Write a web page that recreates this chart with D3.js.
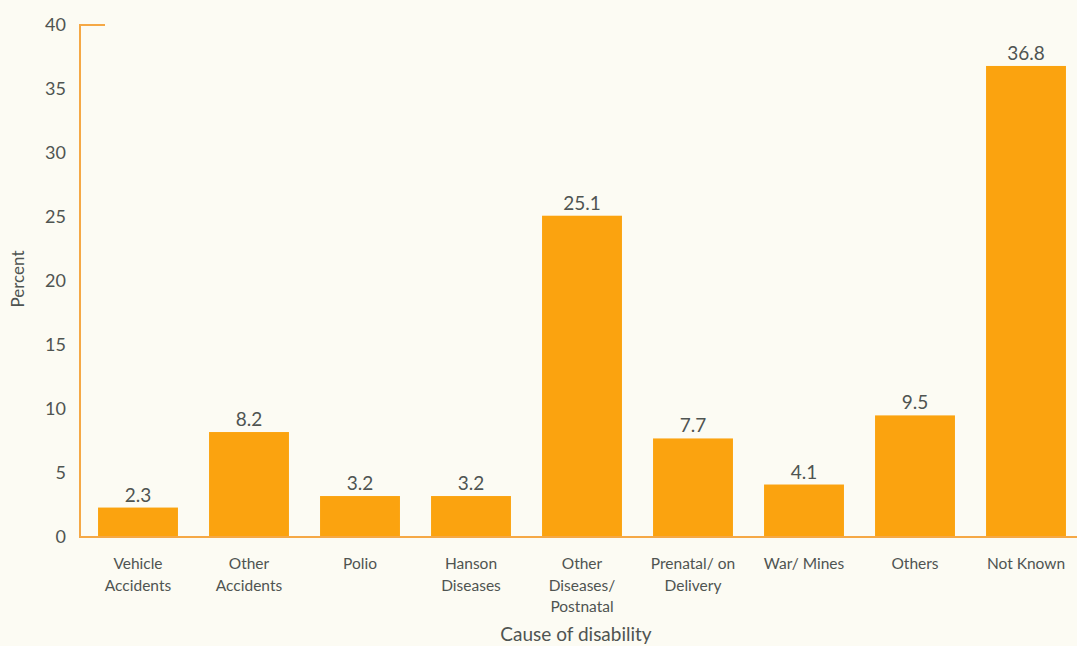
<!DOCTYPE html>
<html><head><meta charset="utf-8">
<script src="https://cdn.jsdelivr.net/npm/d3@7"></script>
<style>
html,body{margin:0;padding:0;background:#fcfbf3;}
svg{display:block;}
text{font-family:Lato,"Open Sans",sans-serif;fill:#4f5451;}
</style></head>
<body>
<svg id="c" width="1077" height="646"></svg>
<script>
const categories = [
  ["Vehicle","Accidents"],
  ["Other","Accidents"],
  ["Polio"],
  ["Hanson","Diseases"],
  ["Other","Diseases/","Postnatal"],
  ["Prenatal/ on","Delivery"],
  ["War/ Mines"],
  ["Others"],
  ["Not Known"]
];
const values = [2.3, 8.2, 3.2, 3.2, 25.1, 7.7, 4.1, 9.5, 36.8];
const yTicks = [0,5,10,15,20,25,30,35,40];
const xTitle = "Cause of disability";
const yTitle = "Percent";

const svg = d3.select("#c");
const W = 1077, H = 646;
svg.append("rect").attr("width",W).attr("height",H).attr("fill","#fcfbf3");

const keys = categories.map((c,i)=>i);
const x = d3.scaleBand().domain(keys).range([82.5,1081.5]).paddingInner(0.28).paddingOuter(0.14);
const y = d3.scaleLinear().domain([0,40]).range([537,25]);

const axisColor = "#f5a845";
const barColor = "#fba30f";

// bars
svg.selectAll("rect.bar").data(values).enter().append("rect")
  .attr("class","bar")
  .attr("x",(d,i)=>x(i))
  .attr("y",d=>y(d))
  .attr("width",x.bandwidth())
  .attr("height",d=>y(0)-y(d))
  .attr("fill",barColor);

// value labels
svg.selectAll("text.val").data(values).enter().append("text")
  .attr("class","val")
  .attr("x",(d,i)=>x(i)+x.bandwidth()/2)
  .attr("y",d=>y(d)-6)
  .attr("text-anchor","middle")
  .attr("font-size",19)
  .text(d=>d.toFixed(1));

// y axis
const yAxis = d3.axisLeft(y).tickValues(yTicks).tickSize(0).tickPadding(14);
const gy = svg.append("g").attr("transform","translate(80,0)").call(yAxis);
gy.select(".domain").remove();
gy.selectAll("text").attr("font-size",18).attr("font-family","Lato,'Open Sans',sans-serif").attr("fill","#4f5451");

svg.append("line").attr("x1",80).attr("x2",80).attr("y1",y(40)).attr("y2",y(0))
  .attr("stroke",axisColor).attr("stroke-width",2);
svg.append("line").attr("x1",79).attr("x2",105).attr("y1",y(40)).attr("y2",y(40))
  .attr("stroke",axisColor).attr("stroke-width",2);

// x axis baseline
const xAxis = d3.axisBottom(x).tickSize(0).tickFormat("");
const gx = svg.append("g").attr("transform",`translate(0,${y(0)})`).call(xAxis);
gx.select(".domain").remove();
svg.append("line").attr("x1",79).attr("x2",W).attr("y1",y(0)).attr("y2",y(0))
  .attr("stroke",axisColor).attr("stroke-width",2);

// category labels
const cl = svg.selectAll("text.cat").data(categories).enter().append("text")
  .attr("class","cat")
  .attr("x",(d,i)=>x(i)+x.bandwidth()/2)
  .attr("y",569)
  .attr("text-anchor","middle")
  .attr("font-size",15.5);
cl.each(function(d,i){
  const t = d3.select(this);
  d.forEach((line,j)=>{
    t.append("tspan").attr("x",x(i)+x.bandwidth()/2).attr("dy",j===0?0:21.5).text(line);
  });
});

// titles
svg.append("text").attr("x",576).attr("y",641).attr("text-anchor","middle")
  .attr("font-size",19).text(xTitle);
svg.append("text").attr("transform","translate(24,279) rotate(-90)")
  .attr("text-anchor","middle").attr("font-size",17).text(yTitle);
</script>
</body></html>
